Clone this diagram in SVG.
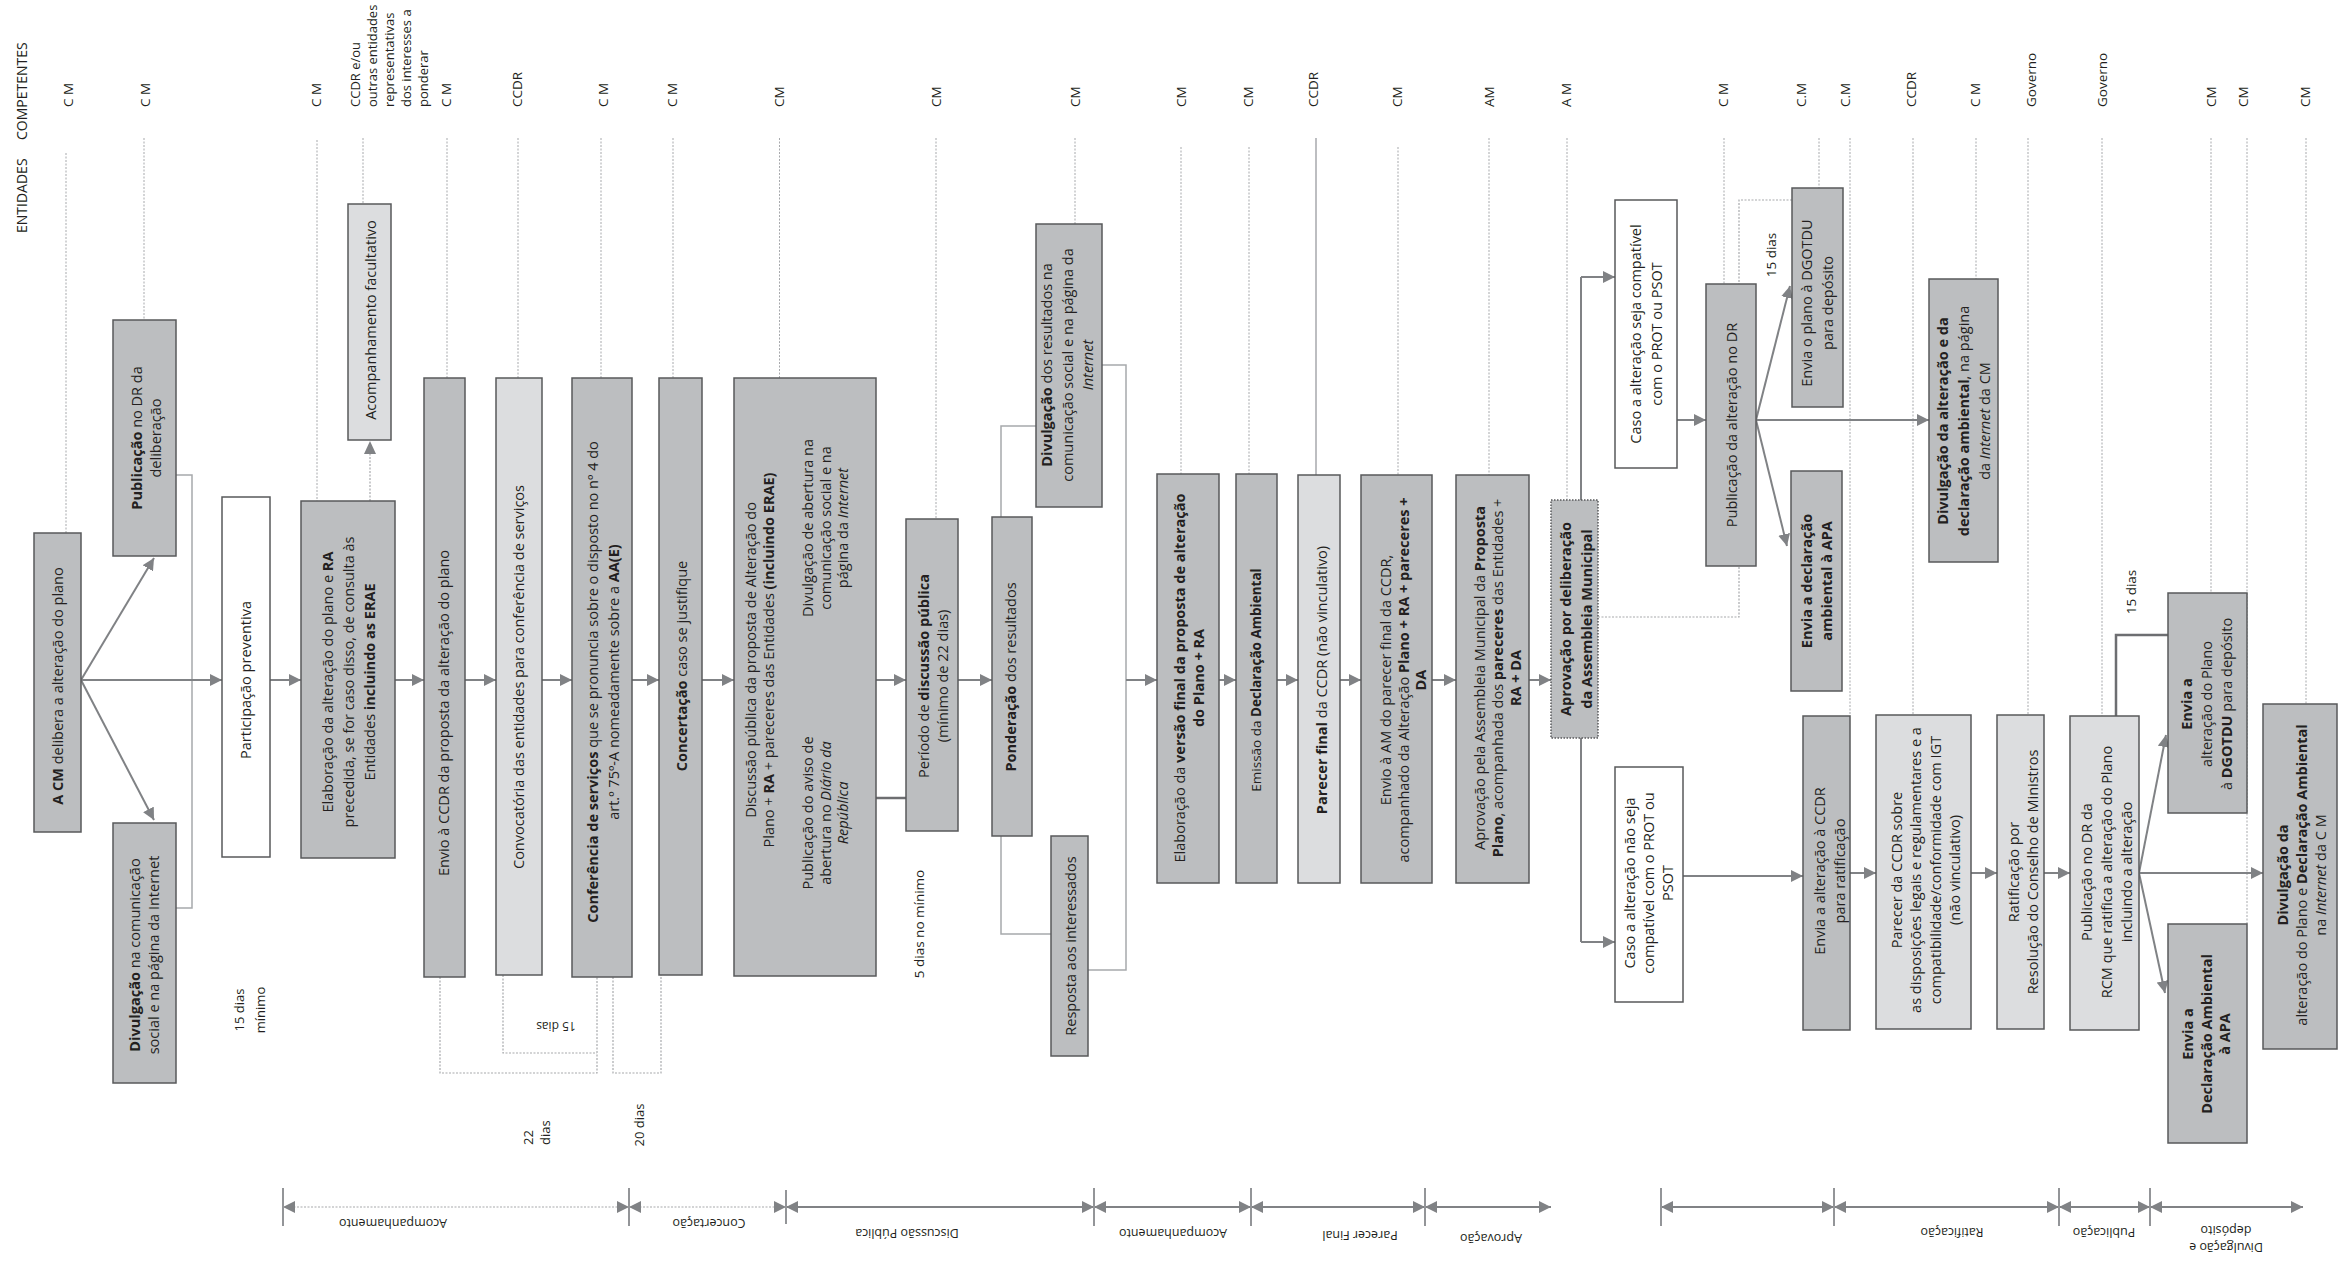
<svg xmlns="http://www.w3.org/2000/svg" width="2341" height="1266" viewBox="0 0 2341 1266">
<defs>
<style>
text{font-family:"Open Sans","Liberation Sans",sans-serif;fill:#231f20}
.t{font-size:14.5px;text-anchor:middle}
.sm{font-size:13.5px}
.b{font-weight:bold}
.i{font-style:italic}
.lb{font-size:13.5px;text-anchor:start}
.ph{font-size:12.5px;text-anchor:middle}
.dk{fill:#bcbec0;stroke:#58595b;stroke-width:1.5}
.lt{fill:#dcdddf;stroke:#58595b;stroke-width:1.5}
.wh{fill:#ffffff;stroke:#58595b;stroke-width:1.5}
.ln{fill:none;stroke:#808285;stroke-width:2}
.lg{fill:none;stroke:#a7a9ac;stroke-width:1.5}
.dk2{fill:none;stroke:#6d6e71;stroke-width:2.5}
.dash{fill:none;stroke:#a7a9ac;stroke-width:1.2;stroke-dasharray:2 1.5}
.lane{fill:none;stroke:#a7a9ac;stroke-width:1;stroke-dasharray:2 1.5}
.tick{stroke:#939598;stroke-width:2}
</style>
<marker id="a" viewBox="0 0 12 12" refX="12" refY="6" markerWidth="12" markerHeight="12" markerUnits="userSpaceOnUse" orient="auto-start-reverse"><path d="M0,0L12,6L0,12z" fill="#808285"/></marker>
</defs>
<rect width="2341" height="1266" fill="#fff"/>

<g id="header">
<text class="lb" style="font-size:14px" transform="translate(27,233) rotate(-90)">ENTIDADES</text>
<text class="lb" style="font-size:14px" transform="translate(27,140) rotate(-90)">COMPETENTES</text>
<text class="lb" transform="translate(72.5,107) rotate(-90)">C M</text>
<text class="lb" transform="translate(149.5,107) rotate(-90)">C M</text>
<text class="lb" transform="translate(320.5,107) rotate(-90)">C M</text>
<text class="lb" style="font-size:13px" transform="translate(360,107) rotate(-90)"><tspan x="0" y="0">CCDR e/ou</tspan><tspan x="0" y="17">outras entidades</tspan><tspan x="0" y="34">representativas</tspan><tspan x="0" y="51">dos interesses a</tspan><tspan x="0" y="68">ponderar</tspan></text>
<text class="lb" transform="translate(450.5,107) rotate(-90)">C M</text>
<text class="lb" transform="translate(521.5,107) rotate(-90)">CCDR</text>
<text class="lb" transform="translate(607.5,107) rotate(-90)">C M</text>
<text class="lb" transform="translate(676.5,107) rotate(-90)">C M</text>
<text class="lb" transform="translate(783.5,107) rotate(-90)">CM</text>
<text class="lb" transform="translate(940.5,107) rotate(-90)">CM</text>
<text class="lb" transform="translate(1079.5,107) rotate(-90)">CM</text>
<text class="lb" transform="translate(1185.5,107) rotate(-90)">CM</text>
<text class="lb" transform="translate(1252.5,107) rotate(-90)">CM</text>
<text class="lb" transform="translate(1317.5,107) rotate(-90)">CCDR</text>
<text class="lb" transform="translate(1401.5,107) rotate(-90)">CM</text>
<text class="lb" transform="translate(1493.5,107) rotate(-90)">AM</text>
<text class="lb" transform="translate(1570.5,107) rotate(-90)">A M</text>
<text class="lb" transform="translate(1727.5,107) rotate(-90)">C M</text>
<text class="lb" transform="translate(1805.5,107) rotate(-90)">C.M</text>
<text class="lb" transform="translate(1849.5,107) rotate(-90)">C.M</text>
<text class="lb" transform="translate(1915.5,107) rotate(-90)">CCDR</text>
<text class="lb" transform="translate(1979.5,107) rotate(-90)">C M</text>
<text class="lb" transform="translate(2035.5,107) rotate(-90)">Governo</text>
<text class="lb" transform="translate(2106.5,107) rotate(-90)">Governo</text>
<text class="lb" transform="translate(2215.5,107) rotate(-90)">CM</text>
<text class="lb" transform="translate(2247.5,107) rotate(-90)">CM</text>
<text class="lb" transform="translate(2309.5,107) rotate(-90)">CM</text>
</g>

<g id="lanes">
<path class="lane" d="M66,153V533M144,138V320M317,140V501M363,138V204M447,138V378M518,138V378M601,138V378M673,138V378M779.5,138V378M936,138V519M1075,138V224M1181,147V474M1249,147V474M1398,147V475M1489,138V475M1567,138V500M1724,138V284M1819,138V188M1850,138V716M1913,138V715M1976,138V279M2028,138V715M2102,138V716M2211,138V593M2247,138V924M2306,138V704"/>
<path d="M1316,138V475" stroke="#a7a9ac" stroke-width="1.5"/>
</g>

<g id="connectors">
<path class="ln" d="M81,680L154,558" marker-end="url(#a)"/>
<path class="ln" d="M81,680L154,820" marker-end="url(#a)"/>
<path class="lg" d="M176,475H192V908H176"/>
<path class="ln" d="M81,680H222" marker-end="url(#a)"/>
<path class="ln" d="M270,680H301" marker-end="url(#a)"/>
<path class="dash" d="M370,501V452"/>
<path d="M364,454L370,441L376,454z" fill="#808285"/>
<path class="ln" d="M395,680H424" marker-end="url(#a)"/>
<path class="ln" d="M465,680H496" marker-end="url(#a)"/>
<path class="ln" d="M542,680H572" marker-end="url(#a)"/>
<path class="ln" d="M632,680H659" marker-end="url(#a)"/>
<path class="ln" d="M702,680H734" marker-end="url(#a)"/>
<path class="dash" d="M440,977V1073H597V977M503,975V1053H597M613,977V1073H661V975"/>
<path class="ln" d="M876,680H906" marker-end="url(#a)"/>
<path class="dk2" d="M876,798H906"/>
<path class="ln" d="M958,680H992" marker-end="url(#a)"/>
<path class="lg" d="M1001,517V426H1036M1001,836V934H1051"/>
<path class="lg" d="M1102,365H1126V970H1088"/>
<path class="ln" d="M1126,680H1157" marker-end="url(#a)"/>
<path class="ln" d="M1219,680H1236" marker-end="url(#a)"/>
<path class="ln" d="M1277,680H1298" marker-end="url(#a)"/>
<path class="ln" d="M1340,680H1361" marker-end="url(#a)"/>
<path class="ln" d="M1432,680H1456" marker-end="url(#a)"/>
<path class="ln" d="M1529,680H1551" marker-end="url(#a)"/>
<path class="ln" d="M1581,500V277" />
<path class="ln" d="M1581,738V942" />
<path class="ln" d="M1581,277H1615" marker-end="url(#a)"/>
<path class="ln" d="M1581,942H1615" marker-end="url(#a)"/>
<path class="ln" d="M1677,420H1706" marker-end="url(#a)"/>
<path class="dash" d="M1598,617H1739V200H1792"/>
<path class="ln" d="M1756,420L1790,286" marker-end="url(#a)"/>
<path class="ln" d="M1756,420H1929" marker-end="url(#a)"/>
<path class="ln" d="M1756,420L1787,546" marker-end="url(#a)"/>
<path class="ln" d="M1683,876H1803" marker-end="url(#a)"/>
<path class="ln" d="M1850,873H1876" marker-end="url(#a)"/>
<path class="ln" d="M1971,873H1997" marker-end="url(#a)"/>
<path class="ln" d="M2044,873H2070" marker-end="url(#a)"/>
<path class="dk2" d="M2116,716V635H2168"/>
<path class="ln" d="M2139,873L2166,735" marker-end="url(#a)"/>
<path class="ln" d="M2139,873H2263" marker-end="url(#a)"/>
<path class="ln" d="M2139,873L2165,993" marker-end="url(#a)"/>
</g>

<g id="n-a"><rect class="dk" x="34" y="533" width="47" height="299"/>
<text class="t" transform="translate(63,686) rotate(-90)"><tspan class="b">A CM</tspan> delibera a alteração do plano</text></g>

<g id="n-b"><rect class="dk" x="113" y="320" width="63" height="236"/>
<text class="t" transform="translate(142,438) rotate(-90)"><tspan x="0" y="0"><tspan class="b">Publicação</tspan> no DR da</tspan><tspan x="0" y="19">deliberação</tspan></text></g>

<g id="n-c"><rect class="dk" x="113" y="823" width="63" height="260"/>
<text class="t" transform="translate(140,955) rotate(-90)"><tspan x="0" y="0"><tspan class="b">Divulgação</tspan> na comunicação</tspan><tspan x="0" y="19">social e na página da Internet</tspan></text></g>

<g id="n-d"><rect class="wh" x="222" y="497" width="48" height="360"/>
<text class="t" transform="translate(251,680) rotate(-90)">Participação preventiva</text></g>

<g id="n-e"><rect class="dk" x="301" y="501" width="94" height="357"/>
<text class="t" transform="translate(333,682) rotate(-90)"><tspan x="0" y="0">Elaboração da alteração do plano e <tspan class="b">RA</tspan></tspan><tspan x="0" y="21">precedida, se for caso disso, de consulta às</tspan><tspan x="0" y="42">Entidades <tspan class="b">incluindo as ERAE</tspan></tspan></text></g>

<g id="n-f"><rect class="lt" x="348" y="204" width="43" height="236"/>
<text class="t" transform="translate(375.5,320) rotate(-90)">Acompanhamento facultativo</text></g>

<g id="n-g"><rect class="dk" x="424" y="378" width="41" height="599"/>
<text class="t" transform="translate(449,713) rotate(-90)">Envio à CCDR da proposta da alteração do plano</text></g>

<g id="n-h"><rect class="lt" x="496" y="378" width="46" height="597"/>
<text class="t" transform="translate(524,677) rotate(-90)">Convocatória das entidades para conferência de serviços</text></g>

<g id="n-i"><rect class="dk" x="572" y="378" width="60" height="599"/>
<text class="t" transform="translate(598,682) rotate(-90)"><tspan x="0" y="0"><tspan class="b">Conferência de serviços</tspan> que se pronuncia sobre o disposto no nº 4 do</tspan><tspan x="0" y="21">art.º 75º-A nomeadamente sobre a <tspan class="b">AA(E)</tspan></tspan></text></g>

<g id="n-j"><rect class="dk" x="659" y="378" width="43" height="597"/>
<text class="t" transform="translate(687,666) rotate(-90)"><tspan class="b">Concertação</tspan> caso se justifique</text></g>

<g id="n-k"><rect class="dk" x="734" y="378" width="142" height="598"/>
<text class="t" transform="translate(756,660) rotate(-90)"><tspan x="0" y="0">Discussão pública da proposta de Alteração do</tspan><tspan x="0" y="18">Plano + <tspan class="b">RA</tspan> + pareceres das Entidades <tspan class="b">(incluindo ERAE)</tspan></tspan></text>
<text class="t" transform="translate(813,528) rotate(-90)"><tspan x="0" y="0">Divulgação de abertura na</tspan><tspan x="0" y="17.5">comunicação social e na</tspan><tspan x="0" y="35">página da <tspan class="i">Internet</tspan></tspan></text>
<text class="t" transform="translate(813,813) rotate(-90)"><tspan x="0" y="0">Publicação do aviso de</tspan><tspan x="0" y="17.5">abertura no <tspan class="i">Diário da</tspan></tspan><tspan x="0" y="35" class="i">República</tspan></text></g>

<g id="n-l"><rect class="dk" x="906" y="519" width="52" height="312"/>
<text class="t" transform="translate(929,676) rotate(-90)"><tspan x="0" y="0">Período de <tspan class="b">discussão pública</tspan></tspan><tspan x="0" y="19">(mínimo de 22 dias)</tspan></text></g>

<g id="n-m"><rect class="dk" x="992" y="517" width="40" height="319"/>
<text class="t" transform="translate(1016,677) rotate(-90)"><tspan class="b">Ponderação</tspan> dos resultados</text></g>

<g id="n-n"><rect class="dk" x="1036" y="224" width="66" height="283"/>
<text class="t" transform="translate(1052,365) rotate(-90)"><tspan x="0" y="0"><tspan class="b">Divulgação</tspan> dos resultados na</tspan><tspan x="0" y="20.5">comunicação social e na página da</tspan><tspan x="0" y="41" class="i">Internet</tspan></text></g>

<g id="n-p"><rect class="dk" x="1051" y="836" width="37" height="220"/>
<text class="t" transform="translate(1076,946) rotate(-90)">Resposta aos interessados</text></g>

<g id="n-o"><rect class="dk" x="1157" y="474" width="62" height="409"/>
<text class="t" transform="translate(1185,678) rotate(-90)"><tspan x="0" y="0">Elaboração da <tspan class="b">versão final da proposta de alteração</tspan></tspan><tspan x="0" y="19" class="b">do Plano + RA</tspan></text></g>

<g id="n-q"><rect class="dk" x="1236" y="474" width="41" height="409"/>
<text class="t sm" transform="translate(1260.5,680) rotate(-90)">Emissão da <tspan class="b">Declaração Ambiental</tspan></text></g>

<g id="n-r"><rect class="lt" x="1298" y="475" width="42" height="408"/>
<text class="t" transform="translate(1327,680) rotate(-90)"><tspan class="b">Parecer final</tspan> da CCDR (não vinculativo)</text></g>

<g id="n-s"><rect class="dk" x="1361" y="475" width="71" height="408"/>
<text class="t" transform="translate(1391,680) rotate(-90)"><tspan x="0" y="0">Envio à AM do parecer final da CCDR,</tspan><tspan x="0" y="17.5">acompanhado da Alteração <tspan class="b">Plano + RA + pareceres +</tspan></tspan><tspan x="0" y="35" class="b">DA</tspan></text></g>

<g id="n-t"><rect class="dk" x="1456" y="475" width="73" height="408"/>
<text class="t" transform="translate(1485,678) rotate(-90)"><tspan x="0" y="0">Aprovação pela Assembleia Municipal da <tspan class="b">Proposta</tspan></tspan><tspan x="0" y="18"><tspan class="b">Plano</tspan>, acompanhada dos <tspan class="b">pareceres</tspan> das Entidades +</tspan><tspan x="0" y="36" class="b">RA + DA</tspan></text></g>

<g id="n-u"><rect x="1551" y="500" width="47" height="238" fill="#bcbec0" stroke="#58595b" stroke-width="1.5" stroke-dasharray="1.5 1.5"/>
<text class="t b" transform="translate(1571,619) rotate(-90)"><tspan x="0" y="0">Aprovação por deliberação</tspan><tspan x="0" y="21">da Assembleia Municipal</tspan></text></g>

<g id="n-v"><rect class="wh" x="1615" y="200" width="62" height="268"/>
<text class="t" transform="translate(1641,334) rotate(-90)"><tspan x="0" y="0">Caso a alteração seja compatível</tspan><tspan x="0" y="21">com o PROT ou PSOT</tspan></text></g>

<g id="n-x"><rect class="dk" x="1706" y="284" width="50" height="282"/>
<text class="t" transform="translate(1737,425) rotate(-90)">Publicação da alteração no DR</text></g>

<g id="n-y"><rect class="dk" x="1792" y="188" width="51" height="219"/>
<text class="t" transform="translate(1812,303) rotate(-90)"><tspan x="0" y="0">Envia o plano à DGOTDU</tspan><tspan x="0" y="21">para depósito</tspan></text></g>

<g id="n-z"><rect class="dk" x="1929" y="279" width="69" height="283"/>
<text class="t" transform="translate(1948,421) rotate(-90)"><tspan x="0" y="0" class="b">Divulgação da alteração e da</tspan><tspan x="0" y="21"><tspan class="b">declaração ambiental</tspan>, na página</tspan><tspan x="0" y="42">da <tspan class="i">Internet</tspan> da CM</tspan></text></g>

<g id="n-aa"><rect class="dk" x="1791" y="471" width="51" height="220"/>
<text class="t b" transform="translate(1812,581) rotate(-90)"><tspan x="0" y="0">Envia a declaração</tspan><tspan x="0" y="19.5">ambiental à APA</tspan></text></g>

<g id="n-w"><rect class="wh" x="1615" y="767" width="68" height="235"/>
<text class="t" transform="translate(1635,883) rotate(-90)"><tspan x="0" y="0">Caso a alteração não seja</tspan><tspan x="0" y="19">compatível com o PROT ou</tspan><tspan x="0" y="38">PSOT</tspan></text></g>

<g id="n-ab"><rect class="dk" x="1803" y="716" width="47" height="314"/>
<text class="t" transform="translate(1825,871) rotate(-90)"><tspan x="0" y="0">Envia a alteração à CCDR</tspan><tspan x="0" y="20">para ratificação</tspan></text></g>

<g id="n-ac"><rect class="lt" x="1876" y="715" width="95" height="314"/>
<text class="t" transform="translate(1902,870) rotate(-90)"><tspan x="0" y="0">Parecer da CCDR sobre</tspan><tspan x="0" y="19.3">as disposições legais e regulamentares e a</tspan><tspan x="0" y="38.6">compatibilidade/conformidade com IGT</tspan><tspan x="0" y="57.9">(não vinculativo)</tspan></text></g>

<g id="n-ad"><rect class="lt" x="1997" y="715" width="47" height="314"/>
<text class="t" transform="translate(2019,872) rotate(-90)"><tspan x="0" y="0">Ratificação por</tspan><tspan x="0" y="19">Resolução do Conselho de Ministros</tspan></text></g>

<g id="n-ae"><rect class="lt" x="2070" y="716" width="69" height="314"/>
<text class="t" transform="translate(2092,872) rotate(-90)"><tspan x="0" y="0">Publicação no DR da</tspan><tspan x="0" y="20">RCM que ratifica a alteração do Plano</tspan><tspan x="0" y="40">incluindo a alteração</tspan></text></g>

<g id="n-af"><rect class="dk" x="2168" y="593" width="79" height="220"/>
<text class="t" transform="translate(2192,704) rotate(-90)"><tspan x="0" y="0" class="b">Envia a</tspan><tspan x="0" y="20">alteração do Plano</tspan><tspan x="0" y="40">à <tspan class="b">DGOTDU</tspan> para depósito</tspan></text></g>

<g id="n-ag"><rect class="dk" x="2168" y="924" width="79" height="219"/>
<text class="t b" transform="translate(2193,1034) rotate(-90)"><tspan x="0" y="0">Envia a</tspan><tspan x="0" y="18.5">Declaração Ambiental</tspan><tspan x="0" y="37">à APA</tspan></text></g>

<g id="n-ah"><rect class="dk" x="2263" y="704" width="74" height="345"/>
<text class="t" transform="translate(2288,875) rotate(-90)"><tspan x="0" y="0" class="b">Divulgação da</tspan><tspan x="0" y="19">alteração do Plano e <tspan class="b">Declaração Ambiental</tspan></tspan><tspan x="0" y="38">na <tspan class="i">Internet</tspan> da C M</tspan></text></g>

<g id="notes">
<text class="t" style="font-size:13px" transform="translate(243.5,1010) rotate(-90)"><tspan x="0" y="0">15 dias</tspan><tspan x="0" y="21">mínimo</tspan></text>
<text class="t" style="font-size:12px" transform="translate(556,1022) rotate(180)">15 dias</text>
<text class="lb" style="font-size:13px" transform="translate(533,1145) rotate(-90)"><tspan x="0" y="0">22</tspan><tspan x="0" y="17">dias</tspan></text>
<text class="t" style="font-size:13px" transform="translate(644,1125) rotate(-90)">20 dias</text>
<text class="t" style="font-size:13.5px" transform="translate(923.5,924) rotate(-90)">5 dias no mínimo</text>
<text class="t" style="font-size:13.5px" transform="translate(1775.5,255) rotate(-90)">15 dias</text>
<text class="t" style="font-size:13.5px" transform="translate(2135.5,592) rotate(-90)">15 dias</text>
</g>

<g id="phases">
<path class="dash" d="M283,1207H629" marker-start="url(#a)" marker-end="url(#a)"/>
<path class="dash" d="M629,1207H786" marker-start="url(#a)" marker-end="url(#a)"/>
<path class="ln" d="M786,1207H1094" marker-start="url(#a)" marker-end="url(#a)"/>
<path class="ln" d="M1094,1207H1251" marker-start="url(#a)" marker-end="url(#a)"/>
<path class="ln" d="M1251,1207H1425" marker-start="url(#a)" marker-end="url(#a)"/>
<path class="ln" d="M1425,1207H1551" marker-start="url(#a)" marker-end="url(#a)"/>
<path class="ln" d="M1661,1207H1834" marker-start="url(#a)" marker-end="url(#a)"/>
<path class="ln" d="M1834,1207H2059" marker-start="url(#a)" marker-end="url(#a)"/>
<path class="ln" d="M2059,1207H2150" marker-start="url(#a)" marker-end="url(#a)"/>
<path class="ln" d="M2150,1207H2303" marker-start="url(#a)" marker-end="url(#a)"/>
<path class="tick" d="M283,1188V1226M629,1188V1226M786,1190V1224M1094,1188V1226M1251,1188V1226M1425,1188V1226M1661,1188V1226M1834,1188V1226M2059,1188V1226M2150,1188V1226"/>
<text class="ph" transform="translate(393,1219) rotate(180)">Acompanhamento</text>
<text class="ph" transform="translate(709,1219) rotate(180)">Concertação</text>
<text class="ph" transform="translate(907,1229) rotate(180)">Discussão Pública</text>
<text class="ph" transform="translate(1173,1229) rotate(180)">Acompanhamento</text>
<text class="ph" transform="translate(1360,1231) rotate(180)">Parecer Final</text>
<text class="ph" transform="translate(1491,1234) rotate(180)">Aprovação</text>
<text class="ph" transform="translate(1952,1228) rotate(180)">Ratificação</text>
<text class="ph" transform="translate(2104,1228) rotate(180)">Publicação</text>
<text class="ph" transform="translate(2226,1243) rotate(180)"><tspan x="0" y="0">Divulgação e</tspan><tspan x="0" y="17">depósito</tspan></text>
</g>
</svg>
